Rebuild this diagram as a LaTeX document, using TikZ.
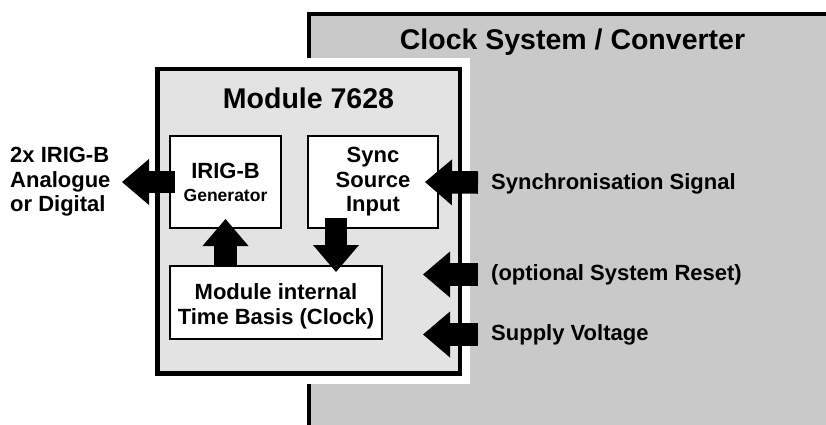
\documentclass[tikz,border=0pt]{standalone}
\usepackage{fontspec}
\setmainfont{Liberation Sans}
\usetikzlibrary{arrows.meta}

\definecolor{sysgray}{gray}{0.79}
\definecolor{modgray}{gray}{0.89}

\tikzset{
  lbl/.style={font=\bfseries\fontsize{22}{24.5}\selectfont, inner sep=0pt},
  titletext/.style={font=\bfseries\fontsize{28.5}{32}\selectfont, inner sep=0pt},
  blockbox/.style={draw, line width=2pt, fill=white, align=center,
    inner sep=0pt, outer sep=0pt,
    font=\bfseries\fontsize{22}{24.5}\selectfont},
  bigarrow/.style={line width=22.5pt,
    -{Triangle[width=46pt,length=27pt,line width=0pt]}}
}

\begin{document}
\begin{tikzpicture}[x=1pt,y=-1pt]
    \useasboundingbox (0,0) rectangle (826,424);
    \clip (0,0) rectangle (826,424);
    % clock system / converter
    \draw[line width=4pt, fill=sysgray] (308.5,14) rectangle (880,480);
    \node[titletext, anchor=base] (systitle) at (572.5,49) {Clock System / Converter};
    \fill[white] (300,58) rectangle (470,384);
    % module 7628
    \draw[line width=4.5pt, fill=modgray] (157.5,69) rectangle (460,373.5);
    \node[titletext, anchor=base] (modtitle) at (308.5,108) {Module 7628};
    \node[blockbox, minimum width=111pt, minimum height=92pt] (irig) at (225.5,182)
        {IRIG-B\\[-1.5pt]{\fontsize{17.5}{20}\selectfont Generator}};
    \node[blockbox, minimum width=130pt, minimum height=92pt] (sync) at (373,182)
        {Sync\\Source\\Input};
    \node[blockbox, minimum width=212pt, minimum height=73pt] (time) at (276,302.5)
        {\rule{0pt}{24pt}Module internal\\Time Basis (Clock)};
    % outside labels
    \node[lbl, anchor=west, align=left] (outlbl) at (10,181.8) {2x IRIG-B\\Analogue\\or Digital};
    \node[lbl, anchor=base west] (siglbl) at (491,189) {Synchronisation Signal};
    \node[lbl, anchor=base west] (rstlbl) at (491,280) {(optional System Reset)};
    \node[lbl, anchor=base west] (suplbl) at (491,340) {Supply Voltage};
    % arrows
    \coordinate (outtip) at (122,182);
    \coordinate (sigtail) at (478,182.5);
    \coordinate (rsttail) at (478,274.5);
    \coordinate (rsttip) at (423,274.5);
    \coordinate (suptail) at (478,334.5);
    \coordinate (suptip) at (423,334.5);
    \draw[bigarrow] ([xshift=5pt]irig.west) -- (outtip);
    \draw[bigarrow] (sigtail) -- ([xshift=-13pt]sync.east);
    \draw[bigarrow] (rsttail) -- (rsttip);
    \draw[bigarrow] (suptail) -- (suptip);
    \draw[bigarrow] ([xshift=-50.5pt]time.north) -- ([yshift=9pt]irig.south);
    \draw[bigarrow] ([xshift=-37pt,yshift=10pt]sync.south) -- ([xshift=60pt,yshift=-6pt]time.north);
\end{tikzpicture}
\end{document}
